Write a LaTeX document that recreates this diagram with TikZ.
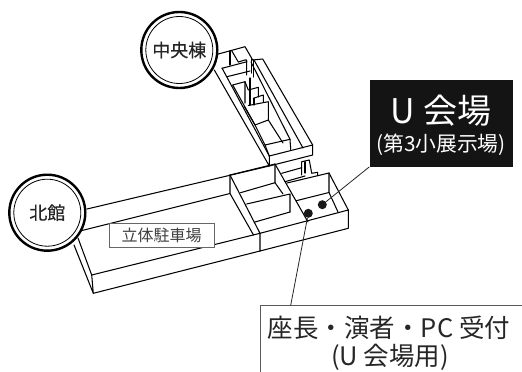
\documentclass[tikz,border=0pt]{standalone}
\usepackage{fontspec}
\setmainfont{Noto Sans CJK JP}
\newfontfamily\medfont[FakeBold=0.35]{Noto Sans CJK JP}
\tikzset{
 wall/.style={line width=1.05pt,line join=round,line cap=round,black},
 ring/.style={circle,draw=black,line width=2.4pt,fill=white,minimum size=76pt,inner sep=0pt},
 innerring/.style={circle,draw=black,line width=0.8pt,minimum size=67pt,inner sep=0pt,font=\fontsize{18}{20}\selectfont\medfont,text=black!85},
 dot/.style={circle,fill=black!90,inner sep=0pt,minimum size=9pt},
 leader/.style={line width=0.8pt,black!85},
 frameline/.style={line width=0.9pt,black!65},
 tag/.style={draw=black!60,line width=0.8pt,fill=white,minimum width=105pt,minimum height=24pt,inner sep=0pt,text=black!75,font=\fontsize{16}{18}\selectfont}
}
\begin{document}
\begin{tikzpicture}[x=1pt,y=-1pt]
\useasboundingbox (0,0) rectangle (522,372);
% north wing
\draw[wall] (87,209)--(269.3,166);
\draw[wall] (80,231)--(230,193.5);
\draw[wall] (91.7,275)--(260,233.3);
\draw[wall] (93.3,293.3)--(260,251);
\draw[wall] (74,245)--(93.3,293.3)--(91.7,275)--(78,238);
\draw[wall] (230,175)--(230,193.5)--(253.5,235);
\draw[wall] (230,175)--(260,233.3)--(260,251);
% north-east rooms
\draw[wall] (230,175)--(275,164)--(308,222);
\draw[wall] (275,164)--(275,182.7)--(283,194);
\draw[wall] (240.5,192.7)--(275,182.7);
\draw[wall] (246.7,204)--(290,194)--(290,212);
\draw[wall] (255,222)--(290,212);
\draw[wall] (260,233.3)--(348.3,210)--(348.3,228.3)--(260,251);
\draw[wall] (287,183)--(329,173)--(348.3,210);
\draw[wall] (329,173)--(329,192.5)--(338,212);
\draw[wall] (296.3,200.7)--(329,192.5);
% link
\draw[wall] (281.7,173.3)--(301.7,167.7);
\draw[wall] (285,181.7)--(305,176);
\draw[wall] (301.7,175)--(301.7,161.7)--(309.3,160)--(311.7,173.3)--(317.7,172.3)--(317.7,175.7);
\draw[wall] (305,161.7)--(305,173);
% central wing outer
\draw[wall] (214.3,70)--(269.3,166)--(269.3,156)--(222,68);
\draw[wall] (269.3,156)--(312.7,145)--(312.7,155)--(269.3,166);
\draw[wall] (217.3,54.3)--(245,46.7)--(252.7,60)--(262.7,59)--(312.7,145);
\draw[wall] (254,60)--(303,148);
\draw[wall] (251,62)--(290,139.3)--(290.7,149.5);
% central wing rooms
\draw[wall] (230,50.7)--(230,65);
\draw[wall] (231.7,50.7)--(238.3,62);
\draw[wall] (222,68.3)--(247,61.7);
\draw[wall] (238.3,62)--(245,60)--(246.7,60)--(246.7,75);
\draw[wall] (251.7,59)--(251.7,73);
\draw[wall] (253.5,60)--(253.5,77);
\draw[wall] (227,76.7)--(250,71);
\draw[wall] (232.7,85)--(245,81.7)--(245,103);
\draw[wall] (232.7,85)--(255,125)--(268.3,120);
\draw[wall] (245,81.7)--(248.3,90)--(258.3,87.3)--(258.3,97);
\draw[wall] (250,78)--(250,105);
\draw[wall] (253.3,98.3)--(263.3,95)--(263.3,102);
\draw[wall] (254,98.3)--(254,105);
\draw[wall] (248.3,105.5)--(268.3,101.7)--(268.3,120)--(283,143);
\draw[wall] (255,125)--(265,145)--(290,139.3);
\draw[wall] (265,145)--(269.3,156);
\draw[wall] (244,106)--(255,125);
% circles
\node[ring] (c1) at (179.3,50) {};
\node[innerring] (c1i) at (179.3,50) {中央棟};
\node[ring] (c2) at (47.3,212.7) {};
\node[innerring] (c2i) at (47.3,212.7) {北館};
% tag
\node[tag] (park) at (161.5,235) {立体駐車場};
% dots
\node[dot] (d1) at (322.3,204.7) {};
\node[dot] (d2) at (308.3,213.3) {};
% black box
\node[fill=black!92,minimum width=143.5pt,minimum height=86.5pt,inner sep=0pt,anchor=north west] (ubox) at (369.3,80) {};
\node[text=white,font=\fontsize{34}{36}\selectfont] (ut) at (441,111) {U 会場};
\node[text=white,font=\fontsize{20.8}{23}\selectfont] (us) at (441,145) {(第3小展示場)};
\draw[leader] (ubox.south west)--(d1);
% reception frame
\coordinate (fl) at (260.7,372);
\coordinate (fc) at (260.7,305.3);
\coordinate (fr) at (522,305.3);
\coordinate (fa) at (290.7,305.3);
\draw[frameline] (fl)--(fc)--(fr);
\draw[leader] (fa)--(d2);
\node[text=black!85,font=\fontsize{25.5}{28}\selectfont] (r1) at (389,328) {座長・演者・PC 受付};
\node[text=black!85,font=\fontsize{25.5}{28}\selectfont] (r2) at (390,357) {(U 会場用)};
\end{tikzpicture}
\end{document}
